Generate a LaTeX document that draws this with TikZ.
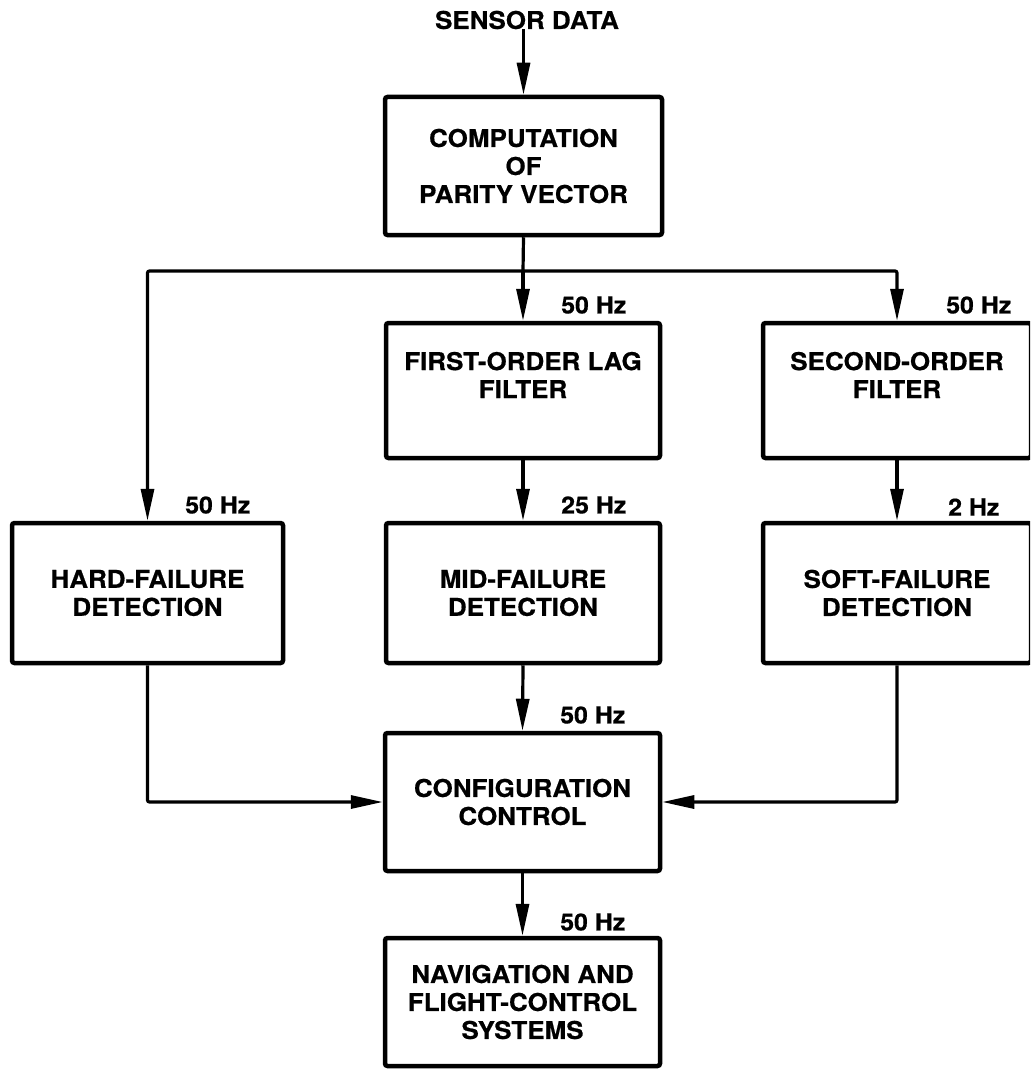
\documentclass[tikz,border=0pt]{standalone}
\usepackage{fontspec}
\setmainfont{TeX Gyre Heros}[FakeStretch=1.06, BoldFeatures={FakeBold=0.6}]
\usetikzlibrary{arrows.meta}
\begin{document}
\begin{tikzpicture}[x=1pt,y=-1pt,
  txt/.style={font=\fontsize{24.5}{28}\selectfont\bfseries, align=center, inner sep=0pt},
  hz/.style={font=\fontsize{23.5}{26}\selectfont\bfseries, anchor=west, inner sep=0pt},
  block/.style={draw, line width=4.5pt, rounded corners=2.5pt, txt, minimum width=#1},
  block/.default=274pt,
  flow/.style={line width=3.2pt, rounded corners=2pt, -{Triangle[length=32pt,width=13pt]}},
  link/.style={line width=3.2pt, rounded corners=2pt}]
\useasboundingbox (0,0) rectangle (1030,1070);
\clip (0,0) rectangle (1030,1070);

% input label
\node[txt] (sensor) at (527,20) {SENSOR DATA};

% processing blocks
\node[block=277pt, minimum height=138pt] (comp) at (523.5,166) {COMPUTATION\\OF\\PARITY VECTOR};
\node[block, minimum height=135pt] (lag) at (523,390.5) {};
\node[txt] at (523,375) {FIRST-ORDER LAG\\FILTER};
\node[block=268pt, minimum height=135pt] (second) at (897,390.5) {};
\node[txt] at (897,375) {SECOND-ORDER\\FILTER};

\node[block=271pt, minimum height=140pt] (hard) at (147.5,593) {HARD-FAILURE\\DETECTION};
\node[block, minimum height=140pt] (mid) at (523,593) {MID-FAILURE\\DETECTION};
\node[block=268pt, minimum height=140pt] (soft) at (897,593) {SOFT-FAILURE\\DETECTION};

\node[block=275pt, minimum height=138pt] (config) at (522.5,802) {CONFIGURATION\\CONTROL};
\node[block=275pt, minimum height=128pt] (nav) at (522.5,1002) {NAVIGATION AND\\FLIGHT-CONTROL\\SYSTEMS};

% branching point below the parity computation
\coordinate (split) at (523,271);

% connectors
\draw[flow] (sensor.south -| comp.north) -- (comp.north);
\draw[link] (comp.south) -- (split);
\draw[flow] (split) -- (lag.north);
\draw[flow] (split) -| (hard.north);
\draw[flow] (split) -| (second.north);
\draw[flow] (lag.south) -- (mid.north);
\draw[flow] (second.south) -- (soft.north);
\draw[flow] (mid.south) -- (config.north);
\draw[flow] (hard.south) |- (config.west);
\draw[flow] (soft.south) |- (config.east);
\draw[flow] (config.south) -- (nav.north);

% sample rates
\node[hz] (r1) at (561,305) {50 Hz};
\node[hz] (r2) at (946,305) {50 Hz};
\node[hz] (r3) at (185,505) {50 Hz};
\node[hz] (r4) at (561,505) {25 Hz};
\node[hz] (r5) at (948,507) {2 Hz};
\node[hz] (r6) at (560,715) {50 Hz};
\node[hz] (r7) at (560,922) {50 Hz};
\end{tikzpicture}
\end{document}
